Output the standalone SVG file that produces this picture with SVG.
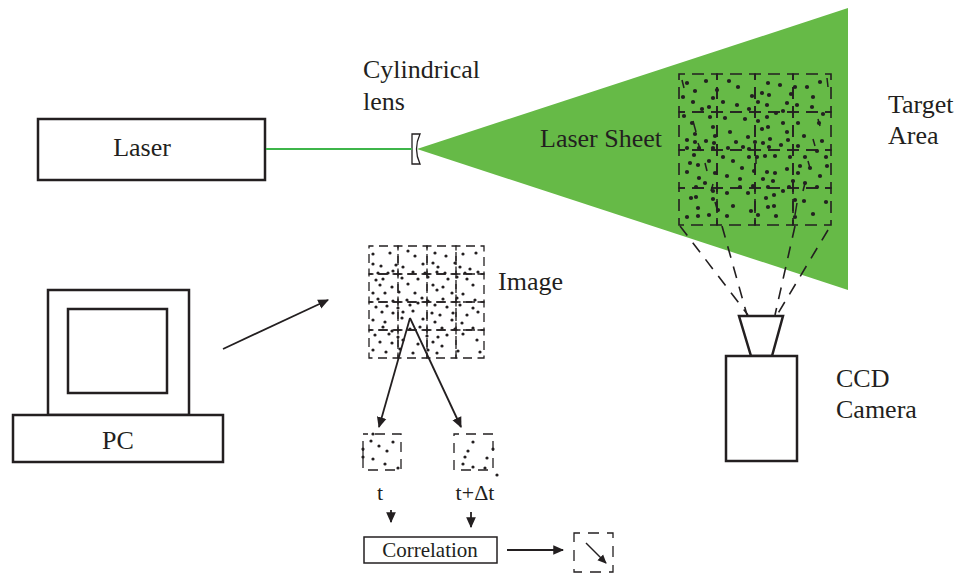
<svg xmlns="http://www.w3.org/2000/svg" width="958" height="574" viewBox="0 0 958 574">
  <style>
    .box { fill: #fff; stroke: #231f20; stroke-width: 2.5; }
    .lbl { font-family: "Liberation Serif", "Times New Roman", serif; fill: #231f20; font-size: 26px; }
    .sm { font-size: 22px; }
    .cell { fill: none; stroke: #231f20; stroke-width: 1.6; stroke-dasharray: 12 7; stroke-dashoffset: 6; }
    .icell { fill: none; stroke: #231f20; stroke-width: 1.3; stroke-dasharray: 9 5.5; stroke-dashoffset: 4.5; }
    .proj { fill: none; stroke: #231f20; stroke-width: 1.6; stroke-dasharray: 12 9; }
    .arr { fill: none; stroke: #231f20; stroke-width: 1.8; }
    .streak { stroke: #231f20; stroke-width: 1.5; }
    .td circle { r: 2.1px; }
    .id circle { r: 1.6px; }
    .dots { fill: #231f20; }
  </style>
  <defs>
    <marker id="ah" viewBox="0 0 10 10" refX="9" refY="5" markerWidth="6" markerHeight="6" orient="auto" markerUnits="strokeWidth">
      <path d="M0,0.5 L10,5 L0,9.5 Z" fill="#231f20"/>
    </marker>
  </defs>

  <!-- laser source -->
  <g id="laser">
    <rect class="box" x="38" y="119" width="227" height="61"/>
    <text class="lbl" x="142" y="156" text-anchor="middle">Laser</text>
  </g>

  <!-- beam and light sheet -->
  <g id="laser-sheet">
    <polygon points="417,149 848,8 848,290" fill="#66ba47"/>
    <text class="lbl" x="540" y="147">Laser Sheet</text>
  </g>

  <!-- cylindrical lens -->
  <g id="lens">
    <path d="M412,134 L420,134 Q413,149 420,164 L412,164 Z" fill="#fff" stroke="#231f20" stroke-width="1.3"/>
    <text class="lbl" x="363" y="78">Cylindrical</text>
    <text class="lbl" x="363" y="110">lens</text>
  </g>

  <!-- target area: interrogation grid with particles -->
  <g id="target-area">
    <g>
      <rect class="cell" x="679" y="74" width="38" height="38"/>
      <rect class="cell" x="717" y="74" width="38" height="38"/>
      <rect class="cell" x="755" y="74" width="38" height="38"/>
      <rect class="cell" x="793" y="74" width="38" height="38"/>
      <rect class="cell" x="679" y="112" width="38" height="38"/>
      <rect class="cell" x="717" y="112" width="38" height="38"/>
      <rect class="cell" x="755" y="112" width="38" height="38"/>
      <rect class="cell" x="793" y="112" width="38" height="38"/>
      <rect class="cell" x="679" y="150" width="38" height="38"/>
      <rect class="cell" x="717" y="150" width="38" height="38"/>
      <rect class="cell" x="755" y="150" width="38" height="38"/>
      <rect class="cell" x="793" y="150" width="38" height="38"/>
      <rect class="cell" x="679" y="188" width="38" height="37"/>
      <rect class="cell" x="717" y="188" width="38" height="37"/>
      <rect class="cell" x="755" y="188" width="38" height="37"/>
      <rect class="cell" x="793" y="188" width="38" height="37"/>
    </g>
    <g class="streak">
      <line x1="682" y1="80" x2="684" y2="88"/>
      <line x1="693" y1="121" x2="696" y2="132"/>
      <line x1="698" y1="143" x2="701" y2="151"/>
      <line x1="705" y1="163" x2="707" y2="171"/>
      <line x1="713" y1="184" x2="711" y2="191"/>
      <line x1="715" y1="202" x2="718" y2="212"/>
      <line x1="827" y1="78" x2="828" y2="87"/>
      <line x1="818" y1="119" x2="820" y2="126"/>
      <line x1="813" y1="139" x2="815" y2="146"/>
      <line x1="808" y1="161" x2="810" y2="168"/>
      <line x1="805" y1="183" x2="803" y2="191"/>
      <line x1="797" y1="203" x2="795" y2="215"/>
      <line x1="756" y1="157" x2="756" y2="164"/>
    </g>
    <g class="dots td">
      <circle cx="687" cy="83"/><circle cx="706" cy="81"/><circle cx="729" cy="81"/><circle cx="738" cy="87"/>
      <circle cx="768" cy="83"/><circle cx="780" cy="85"/><circle cx="795" cy="87"/><circle cx="807" cy="87"/>
      <circle cx="820" cy="82"/><circle cx="695" cy="91"/><circle cx="717" cy="90"/><circle cx="683" cy="97"/>
      <circle cx="713" cy="98"/><circle cx="752" cy="96"/><circle cx="762" cy="93"/><circle cx="769" cy="95"/>
      <circle cx="791" cy="94"/><circle cx="813" cy="97"/><circle cx="693" cy="102"/><circle cx="723" cy="102"/>
      <circle cx="758" cy="102"/><circle cx="787" cy="103"/><circle cx="797" cy="105"/><circle cx="709" cy="107"/>
      <circle cx="737" cy="105"/><circle cx="767" cy="105"/><circle cx="702" cy="109"/><circle cx="749" cy="109"/>
      <circle cx="783" cy="111"/><circle cx="812" cy="107"/><circle cx="684" cy="116"/><circle cx="710" cy="117"/>
      <circle cx="725" cy="118"/><circle cx="745" cy="119"/><circle cx="758" cy="121"/><circle cx="767" cy="117"/>
      <circle cx="776" cy="113"/><circle cx="783" cy="123"/><circle cx="798" cy="123"/><circle cx="823" cy="114"/>
      <circle cx="692" cy="123"/><circle cx="713" cy="127"/><circle cx="730" cy="132"/><circle cx="762" cy="129"/>
      <circle cx="768" cy="127"/><circle cx="787" cy="132"/><circle cx="804" cy="136"/><circle cx="819" cy="123"/>
      <circle cx="695" cy="134"/><circle cx="715" cy="136"/><circle cx="748" cy="137"/><circle cx="770" cy="139"/>
      <circle cx="788" cy="140"/><circle cx="687" cy="140"/><circle cx="695" cy="142"/><circle cx="706" cy="141"/>
      <circle cx="822" cy="141"/><circle cx="714" cy="143"/><circle cx="736" cy="142"/><circle cx="755" cy="142"/>
      <circle cx="763" cy="143"/><circle cx="781" cy="145"/><circle cx="798" cy="146"/><circle cx="687" cy="148"/>
      <circle cx="699" cy="148"/><circle cx="713" cy="148"/><circle cx="728" cy="148"/><circle cx="743" cy="147"/>
      <circle cx="749" cy="149"/><circle cx="769" cy="147"/><circle cx="817" cy="151"/><circle cx="694" cy="155"/>
      <circle cx="723" cy="157"/><circle cx="733" cy="161"/><circle cx="749" cy="157"/><circle cx="757" cy="157"/>
      <circle cx="765" cy="156"/><circle cx="775" cy="156"/><circle cx="790" cy="157"/><circle cx="805" cy="157"/>
      <circle cx="826" cy="157"/><circle cx="690" cy="163"/><circle cx="698" cy="165"/><circle cx="709" cy="161"/>
      <circle cx="800" cy="166"/><circle cx="810" cy="168"/><circle cx="827" cy="166"/><circle cx="687" cy="172"/>
      <circle cx="715" cy="173"/><circle cx="727" cy="176"/><circle cx="742" cy="168"/><circle cx="754" cy="171"/>
      <circle cx="767" cy="172"/><circle cx="775" cy="173"/><circle cx="787" cy="169"/><circle cx="798" cy="173"/>
      <circle cx="820" cy="176"/><circle cx="699" cy="178"/><circle cx="740" cy="179"/><circle cx="763" cy="179"/>
      <circle cx="773" cy="181"/><circle cx="793" cy="181"/><circle cx="696" cy="187"/><circle cx="705" cy="183"/>
      <circle cx="713" cy="191"/><circle cx="727" cy="193"/><circle cx="740" cy="187"/><circle cx="753" cy="186"/>
      <circle cx="768" cy="187"/><circle cx="783" cy="191"/><circle cx="789" cy="187"/><circle cx="805" cy="183"/>
      <circle cx="817" cy="187"/><circle cx="691" cy="198"/><circle cx="696" cy="197"/><circle cx="713" cy="199"/>
      <circle cx="748" cy="193"/><circle cx="766" cy="198"/><circle cx="774" cy="195"/><circle cx="698" cy="208"/>
      <circle cx="718" cy="210"/><circle cx="733" cy="206"/><circle cx="751" cy="211"/><circle cx="768" cy="207"/>
      <circle cx="774" cy="206"/><circle cx="795" cy="200"/><circle cx="804" cy="201"/><circle cx="826" cy="202"/>
      <circle cx="687" cy="217"/><circle cx="698" cy="216"/><circle cx="709" cy="215"/><circle cx="727" cy="216"/>
      <circle cx="758" cy="215"/><circle cx="776" cy="216"/><circle cx="795" cy="217"/><circle cx="813" cy="214"/>
    </g>
    <text class="lbl" x="888" y="113">Target</text>
    <text class="lbl" x="888" y="144">Area</text>
  </g>

  <!-- CCD camera -->
  <g id="ccd-camera">
    <polygon points="739,316 783,316 772,356 751,356" fill="#fff" stroke="#231f20" stroke-width="2.5"/>
    <rect class="box" x="726" y="356" width="71" height="105"/>
    <text class="lbl" x="836" y="387">CCD</text>
    <text class="lbl" x="836" y="418">Camera</text>
  </g>

  <!-- PC -->
  <g id="pc">
    <rect class="box" x="48" y="290" width="141" height="125"/>
    <rect class="box" x="68" y="309" width="99" height="84"/>
    <rect class="box" x="13" y="415" width="210" height="47"/>
    <text class="lbl" x="118" y="449" text-anchor="middle">PC</text>
  </g>

  <!-- recorded image -->
  <g id="image">
    <g>
      <rect class="icell" x="369" y="246" width="29" height="28"/>
      <rect class="icell" x="398" y="246" width="29" height="28"/>
      <rect class="icell" x="427" y="246" width="29" height="28"/>
      <rect class="icell" x="456" y="246" width="28" height="28"/>
      <rect class="icell" x="369" y="274" width="29" height="28"/>
      <rect class="icell" x="398" y="274" width="29" height="28"/>
      <rect class="icell" x="427" y="274" width="29" height="28"/>
      <rect class="icell" x="456" y="274" width="28" height="28"/>
      <rect class="icell" x="369" y="302" width="29" height="28"/>
      <rect class="icell" x="398" y="302" width="29" height="28"/>
      <rect class="icell" x="427" y="302" width="29" height="28"/>
      <rect class="icell" x="456" y="302" width="28" height="28"/>
      <rect class="icell" x="369" y="330" width="29" height="28"/>
      <rect class="icell" x="398" y="330" width="29" height="28"/>
      <rect class="icell" x="427" y="330" width="29" height="28"/>
      <rect class="icell" x="456" y="330" width="28" height="28"/>
    </g>
    <g class="dots id">
      <circle cx="373" cy="254"/><circle cx="390" cy="253"/><circle cx="408" cy="251"/><circle cx="415" cy="256"/>
      <circle cx="435" cy="253"/><circle cx="446" cy="256"/><circle cx="463" cy="254"/><circle cx="476" cy="253"/>
      <circle cx="373" cy="264"/><circle cx="381" cy="266"/><circle cx="396" cy="265"/><circle cx="403" cy="267"/>
      <circle cx="423" cy="264"/><circle cx="433" cy="263"/><circle cx="438" cy="267"/><circle cx="455" cy="263"/>
      <circle cx="460" cy="267"/><circle cx="470" cy="269"/><circle cx="378" cy="273"/><circle cx="388" cy="273"/>
      <circle cx="393" cy="271"/><circle cx="413" cy="272"/><circle cx="425" cy="273"/><circle cx="437" cy="272"/>
      <circle cx="445" cy="273"/><circle cx="465" cy="273"/><circle cx="478" cy="272"/><circle cx="376" cy="280"/>
      <circle cx="383" cy="279"/><circle cx="402" cy="278"/><circle cx="418" cy="279"/><circle cx="428" cy="277"/>
      <circle cx="448" cy="279"/><circle cx="457" cy="277"/><circle cx="467" cy="279"/><circle cx="380" cy="285"/>
      <circle cx="392" cy="287"/><circle cx="408" cy="284"/><circle cx="433" cy="285"/><circle cx="443" cy="287"/>
      <circle cx="473" cy="285"/><circle cx="373" cy="293"/><circle cx="385" cy="293"/><circle cx="399" cy="292"/>
      <circle cx="415" cy="293"/><circle cx="437" cy="290"/><circle cx="452" cy="293"/><circle cx="463" cy="294"/>
      <circle cx="378" cy="299"/><circle cx="393" cy="301"/><circle cx="407" cy="300"/><circle cx="422" cy="298"/>
      <circle cx="428" cy="301"/><circle cx="443" cy="299"/><circle cx="457" cy="298"/><circle cx="475" cy="300"/>
      <circle cx="376" cy="307"/><circle cx="387" cy="306"/><circle cx="398" cy="308"/><circle cx="410" cy="305"/>
      <circle cx="418" cy="303"/><circle cx="435" cy="305"/><circle cx="447" cy="307"/><circle cx="460" cy="305"/>
      <circle cx="473" cy="308"/><circle cx="382" cy="312"/><circle cx="393" cy="313"/><circle cx="403" cy="312"/>
      <circle cx="413" cy="311"/><circle cx="432" cy="313"/><circle cx="440" cy="315"/><circle cx="453" cy="313"/>
      <circle cx="467" cy="315"/><circle cx="478" cy="312"/><circle cx="373" cy="320"/><circle cx="385" cy="322"/>
      <circle cx="402" cy="318"/><circle cx="423" cy="319"/><circle cx="435" cy="322"/><circle cx="452" cy="320"/>
      <circle cx="462" cy="323"/><circle cx="383" cy="327"/><circle cx="392" cy="331"/><circle cx="410" cy="329"/>
      <circle cx="420" cy="327"/><circle cx="442" cy="328"/><circle cx="455" cy="329"/><circle cx="473" cy="328"/>
      <circle cx="375" cy="335"/><circle cx="389" cy="334"/><circle cx="398" cy="337"/><circle cx="427" cy="336"/>
      <circle cx="438" cy="337"/><circle cx="447" cy="335"/><circle cx="463" cy="334"/><circle cx="380" cy="342"/>
      <circle cx="392" cy="343"/><circle cx="403" cy="340"/><circle cx="418" cy="344"/><circle cx="433" cy="342"/>
      <circle cx="442" cy="346"/><circle cx="477" cy="340"/><circle cx="373" cy="350"/><circle cx="386" cy="352"/>
      <circle cx="400" cy="349"/><circle cx="413" cy="353"/><circle cx="428" cy="350"/><circle cx="437" cy="353"/>
      <circle cx="458" cy="351"/><circle cx="480" cy="352"/>
    </g>
    <text class="lbl" x="498" y="290">Image</text>
  </g>

  <!-- sub-windows at t and t+dt -->
  <g id="window-t">
    <rect class="cell" x="363" y="434" width="38" height="36" style="stroke-width:1.3;stroke-dasharray:10 7;stroke-dashoffset:5"/>
    <line class="streak" x1="363" y1="449" x2="363" y2="457" style="stroke-width:1.2"/>
    <g class="dots id">
      <circle cx="373" cy="434"/><circle cx="371" cy="441"/><circle cx="379" cy="446"/><circle cx="393" cy="442"/>
      <circle cx="363" cy="449"/><circle cx="387" cy="451"/><circle cx="373" cy="459"/><circle cx="363" cy="457"/>
      <circle cx="385" cy="464"/><circle cx="398" cy="468"/>
    </g>
    <text class="lbl sm" x="380" y="500" text-anchor="middle">t</text>
  </g>
  <g id="window-t-dt">
    <rect class="cell" x="454" y="434" width="39" height="36" style="stroke-width:1.3;stroke-dasharray:10 7;stroke-dashoffset:5"/>
    <g class="dots id">
      <circle cx="473" cy="442"/><circle cx="468" cy="451"/><circle cx="465" cy="457"/><circle cx="487" cy="458"/>
      <circle cx="493" cy="449"/><circle cx="463" cy="464"/><circle cx="473" cy="467"/><circle cx="485" cy="468"/>
      <circle cx="497" cy="475"/>
    </g>
    <text class="lbl sm" x="475" y="500" text-anchor="middle">t+Δt</text>
  </g>

  <!-- correlation step and resulting displacement vector -->
  <g id="correlation">
    <rect x="364" y="537" width="133" height="26" fill="#fff" stroke="#231f20" stroke-width="1.5"/>
    <text class="lbl" x="430" y="557" text-anchor="middle" style="font-size:21px">Correlation</text>
  </g>
  <g id="vector">
    <rect class="cell" x="574" y="533" width="39" height="39" style="stroke-width:1.3;stroke-dasharray:11 8;stroke-dashoffset:5"/>
  </g>

  <!-- connectors -->
  <g id="connectors">
    <line x1="266" y1="149" x2="412" y2="149" stroke="#3db54a" stroke-width="2.2"/>
    <line class="proj" x1="680" y1="226" x2="748" y2="315"/>
    <line class="proj" x1="722" y1="226" x2="747" y2="315"/>
    <line class="proj" x1="795" y1="226" x2="775" y2="315"/>
    <line class="proj" x1="828" y1="230" x2="777" y2="315"/>
    <line class="arr" x1="223" y1="349" x2="328" y2="300" marker-end="url(#ah)"/>
    <line class="arr" x1="410" y1="318" x2="379" y2="427" marker-end="url(#ah)"/>
    <line class="arr" x1="410" y1="318" x2="461" y2="427" marker-end="url(#ah)"/>
    <line class="arr" x1="391" y1="510" x2="391" y2="522" marker-end="url(#ah)"/>
    <line class="arr" x1="471" y1="512" x2="471" y2="527" marker-end="url(#ah)"/>
    <line class="arr" x1="507" y1="550" x2="563" y2="550" marker-end="url(#ah)"/>
    <line class="arr" x1="586" y1="543" x2="606" y2="563" marker-end="url(#ah)" style="stroke-width:1.5"/>
  </g>
</svg>
